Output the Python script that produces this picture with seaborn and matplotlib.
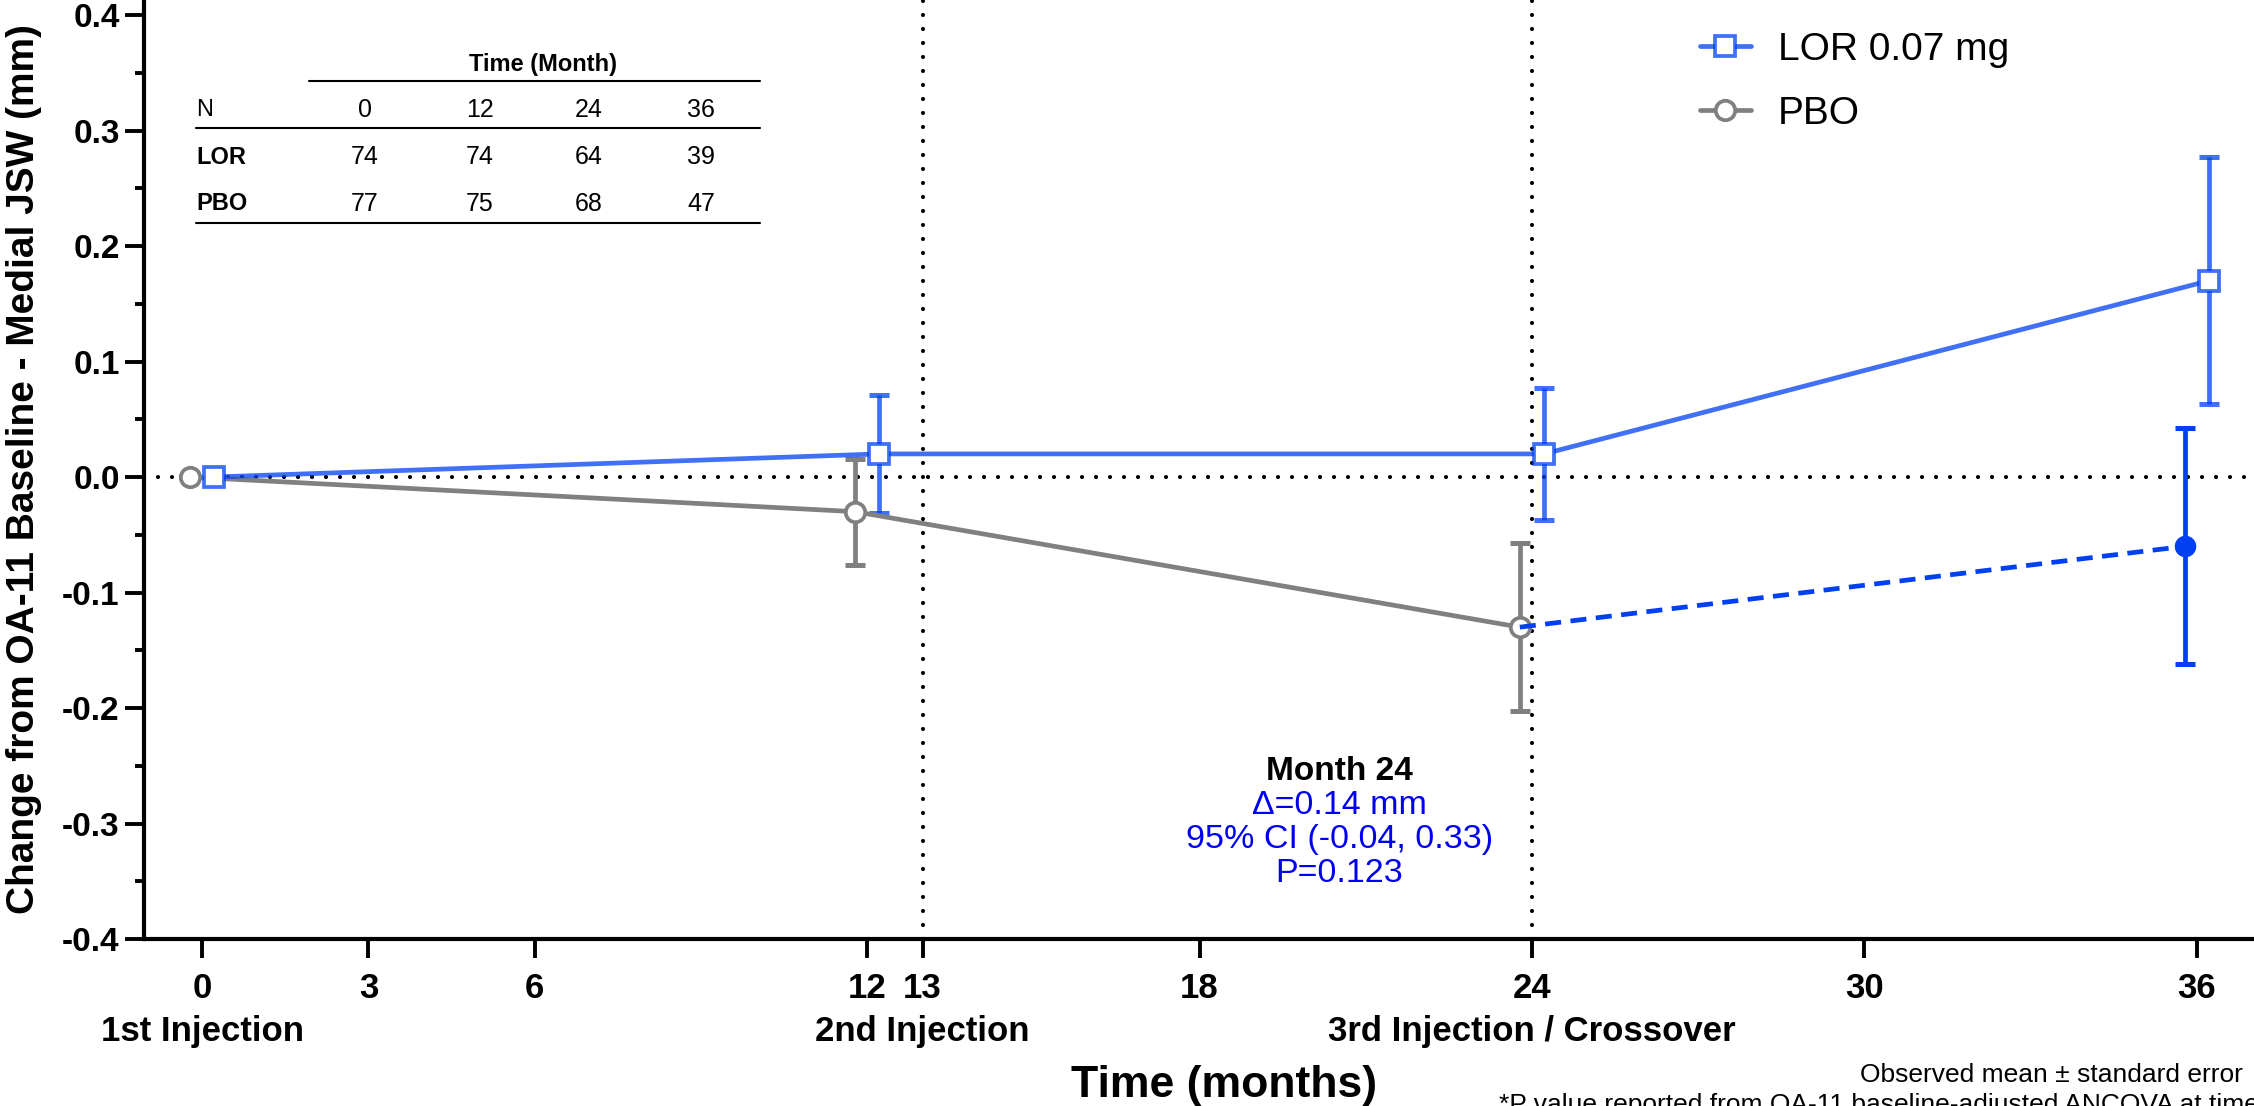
import numpy as np
import matplotlib
matplotlib.use('Agg')
import matplotlib.pyplot as plt
import seaborn as sns
from matplotlib.lines import Line2D


# values (mean change in medial JSW, mm)
lor_months = [0, 12, 24, 36]
lor_mean = [0.0, 0.02, 0.02, 0.17]
lor_se = [0.0, 0.051, 0.057, 0.107]

pbo_months = [0, 12, 24]
pbo_mean = [0.0, -0.03, -0.13]
pbo_se = [0.0, 0.046, 0.073]

# placebo patients crossed over to LOR after month 24
cross_months = [24, 36]
cross_mean = [-0.13, -0.06]
cross_se = [0.0, 0.102]

tick_months = [0, 3, 6, 12, 13, 18, 24, 30, 36]
y_ticks = [-0.4, -0.3, -0.2, -0.1, 0.0, 0.1, 0.2, 0.3, 0.4]
visit_notes = {0: '1st Injection', 13: '2nd Injection', 24: '3rd Injection / Crossover'}
injection_months = [13, 24]

table_months = [0, 12, 24, 36]
n_lor = [74, 74, 64, 39]
n_pbo = [77, 75, 68, 47]

month24_lines = ['\u0394=0.14 mm', '95% CI (-0.04, 0.33)', 'P=0.123']

LOR_COLOR = (0.0, 0.25, 0.95, 0.75)
CROSS_COLOR = '#0040F2'
PBO_COLOR = '#808080'
LOR_SHIFT = 0.22
PBO_SHIFT = -0.22

W, H = 2254, 1106


def fx(x):
    return x / W


def fy(y):
    return 1 - y / H


def draw_series(ax, months, mean, se, shift, color, marker, ms, face, label, ls='-',
                markevery=None):
    x = np.array(months) + shift
    sns.lineplot(x=x, y=mean, ax=ax, color=color, linewidth=3.4, linestyle=ls,
                 marker=marker, markersize=ms, markerfacecolor=face, markevery=markevery,
                 markeredgecolor=color, markeredgewidth=2.7 if face == 'white' else 0,
                 label=label, errorbar=None, sort=False, legend=False, zorder=3)
    se = np.array(se)
    keep = se > 0
    ax.errorbar(x[keep], np.array(mean)[keep], yerr=se[keep], fmt='none',
                ecolor=color, elinewidth=3.4, capsize=7.5, capthick=3.6, zorder=2)


def main():
    sns.set_theme(style='ticks', rc={'axes.edgecolor': 'black', 'xtick.color': 'black',
                                     'ytick.color': 'black', 'text.color': 'black'})
    plt.rcParams['font.family'] = ['Liberation Sans', 'DejaVu Sans']

    fig = plt.figure(figsize=(W / 100, H / 100), dpi=100)
    ax = fig.add_axes([fx(144), fy(939), 1 - fx(144), 939 / H])

    # reference lines
    dots = dict(color='black', lw=3, linestyle=(0, (0.01, 3.35)), dash_capstyle='round', zorder=1)
    ax.axhline(0, **dots)
    for m in injection_months:
        ax.axvline(m, **dots)

    draw_series(ax, pbo_months, pbo_mean, pbo_se, PBO_SHIFT, PBO_COLOR, 'o', 14, 'white', 'PBO')
    # no marker at the crossover start point (it sits under the PBO circle)
    draw_series(ax, cross_months, cross_mean, cross_se, PBO_SHIFT, CROSS_COLOR, 'o', 15.5,
                CROSS_COLOR, None, ls=(0, (3.4, 2.0)), markevery=[1])
    draw_series(ax, lor_months, lor_mean, lor_se, LOR_SHIFT, LOR_COLOR, 's', 14, 'white',
                'LOR 0.07 mg')

    ax.set_xlim(-1.05, 37.03)
    ax.set_ylim(-0.4, 0.413)
    ax.set_xticks(tick_months)
    ax.set_xticklabels([str(m) for m in tick_months])
    ax.set_yticks(y_ticks)
    ax.set_yticklabels([f'{v + 0.0:.1f}' for v in y_ticks])
    ax.set_yticks(np.arange(-0.35, 0.4, 0.1), minor=True)
    ax.tick_params(axis='both', which='major', length=13.5, width=2.8)
    ax.tick_params(axis='x', labelsize=25, pad=10)
    ax.tick_params(axis='y', labelsize=24, pad=4)
    ax.tick_params(axis='y', which='minor', length=6.5, width=2.8)
    for lab in ax.get_xticklabels() + ax.get_yticklabels():
        lab.set_fontweight('bold')
    for side in ['left', 'bottom']:
        ax.spines[side].set_linewidth(3)
    sns.despine(ax=ax)
    ax.set_xlabel('')
    ax.set_ylabel('')

    # visit names under the month ticks
    for m, note in visit_notes.items():
        ax.text(m, -92 / 939, note, transform=ax.get_xaxis_transform(), ha='center', va='center',
                fontsize=25, fontweight='bold', clip_on=False)

    handles, labels = ax.get_legend_handles_labels()
    order = [labels.index('LOR 0.07 mg'), labels.index('PBO')]
    fig.legend([handles[i] for i in order], [labels[i] for i in order],
               loc='upper left', bbox_to_anchor=(fx(1700), fy(32)), frameon=False,
               fontsize=28, handlelength=1.3, handletextpad=0.7, borderpad=0,
               borderaxespad=0, labelspacing=0.72)

    # axis titles
    fig.text(fx(24), fy(469), 'Change from OA-11 Baseline - Medial JSW (mm)', rotation=90,
             ha='center', va='center', fontsize=28, fontweight='bold')
    fig.text(fx(1224), fy(1085), 'Time (months)', ha='center', va='center',
             fontsize=32, fontweight='bold')

    # month 24 comparison
    ax.text(20.52, -0.255, 'Month 24', ha='center', va='center', fontsize=24, fontweight='bold')
    for i, line in enumerate(month24_lines):
        ax.text(20.52, -0.284 - 0.0295 * i, line, ha='center', va='center', fontsize=24.5,
                color='#0000F0')

    # N at risk table
    fig.text(fx(543), fy(65), 'Time (Month)', ha='center', va='center', fontsize=17,
             fontweight='bold')
    col_x = [365, 480, 589, 701]
    rows = [('N', table_months, 'normal', 110), ('LOR', n_lor, 'bold', 157),
            ('PBO', n_pbo, 'bold', 204)]
    for name, vals, weight, y in rows:
        fig.text(fx(196), fy(y), name, ha='left', va='center', fontsize=17, fontweight=weight)
        for cx, v in zip(col_x, vals):
            fig.text(fx(cx), fy(y), str(v), ha='center', va='center', fontsize=18)
    for x0, y in [(309, 81), (196, 128), (196, 223)]:
        fig.add_artist(Line2D([fx(x0), fx(760)], [fy(y), fy(y)], transform=fig.transFigure,
                              color='black', lw=1.5))

    # footnotes
    fig.text(fx(2243), fy(1075), 'Observed mean \u00b1 standard error', ha='right', va='center',
             fontsize=19)
    fig.text(fx(1499), fy(1093), '*P value reported from OA-11 baseline-adjusted ANCOVA at timepoint',
             ha='left', va='top', fontsize=19)

    fig.savefig('out.png', dpi=100)


if __name__ == '__main__':
    main()
